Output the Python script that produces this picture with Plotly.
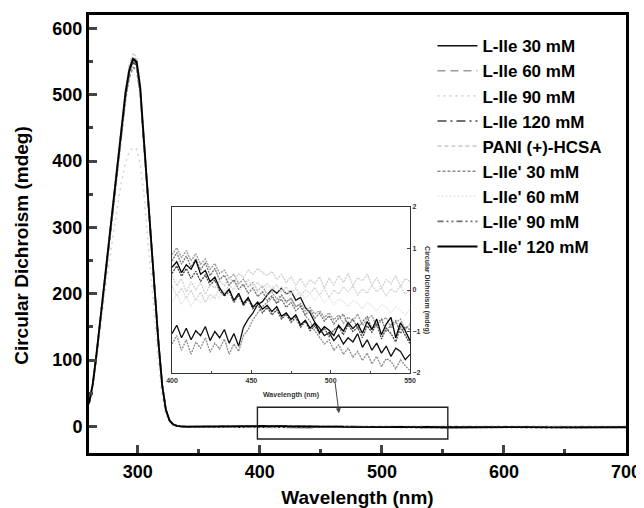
import plotly.graph_objects as go

# wavelength grids (nm)
peak_nm = [260, 263, 266, 269, 272, 275, 278, 281, 284, 287, 290, 293, 296,
           299, 302, 305, 308, 311, 314, 317, 320, 323, 326, 329, 332, 335]
pre_nm = [340, 350, 360, 370, 380, 390]
inset_nm = list(range(400, 551, 3))
post_nm = [560, 580, 600, 620, 640, 660, 680, 700]

labels = ["L-Ile 30 mM", "L-Ile 60 mM", "L-Ile 90 mM", "L-Ile 120 mM", "PANI (+)-HCSA",
          "L-Ile' 30 mM", "L-Ile' 60 mM", "L-Ile' 90 mM", "L-Ile' 120 mM"]

# CD peak region (mdeg)
peak_l30 = [35, 62, 106, 155, 200, 253, 300, 352, 403, 452, 502, 535, 552, 548, 508, 430, 350, 275, 200, 125, 62, 25, 9, 3, 1, 0]
peak_l60 = [36, 64, 108, 158, 204, 257, 305, 357, 408, 457, 507, 540, 557, 553, 512, 433, 352, 277, 201, 126, 63, 25, 9, 3, 1, 0]
peak_l90 = [34, 60, 102, 148, 188, 228, 268, 305, 340, 372, 398, 414, 420, 418, 395, 350, 290, 225, 160, 95, 45, 18, 7, 2, 1, 0]
peak_l120 = [34, 61, 104, 153, 197, 250, 296, 348, 399, 448, 498, 531, 548, 545, 505, 427, 348, 273, 198, 124, 61, 24, 9, 3, 1, 0]
peak_pani = [37, 65, 110, 160, 206, 260, 308, 360, 412, 461, 511, 545, 561, 558, 516, 436, 354, 278, 202, 126, 63, 25, 9, 3, 1, 0]
peak_p30 = [33, 60, 103, 151, 195, 247, 293, 344, 395, 443, 492, 525, 541, 538, 499, 423, 345, 271, 197, 123, 61, 24, 9, 3, 1, 0]
peak_p60 = [36, 63, 108, 157, 203, 256, 304, 356, 407, 456, 506, 540, 556, 553, 512, 433, 352, 277, 201, 126, 63, 25, 9, 3, 1, 0]
peak_p90 = [35, 62, 105, 154, 199, 252, 299, 351, 402, 451, 501, 534, 551, 547, 507, 429, 349, 274, 199, 124, 62, 25, 9, 3, 1, 0]
peak_p120 = [35, 63, 107, 156, 201, 254, 302, 354, 405, 454, 504, 537, 554, 550, 510, 431, 351, 276, 200, 125, 62, 25, 9, 3, 1, 0]

# flat region before the zoomed window
pre_l30 = [-0.6, -0.9, -1.1, -0.8, -1.2, -1.0]
pre_l60 = [-0.3, -0.5, -0.2, 0.1, 0.4, 0.7]
pre_l90 = [-0.2, 0.1, -0.3, 0.0, -0.1, 0.1]
pre_l120 = [-0.4, -0.2, 0.0, 0.2, 0.1, 0.4]
pre_pani = [0.2, 0.0, 0.3, 0.1, 0.4, 0.2]
pre_p30 = [-0.8, -1.2, -1.0, -1.4, -1.1, -1.3]
pre_p60 = [-0.1, -0.3, -0.2, -0.4, -0.2, -0.3]
pre_p90 = [-0.3, 0.0, 0.2, 0.1, 0.5, 0.6]
pre_p120 = [-0.2, 0.1, 0.0, 0.3, 0.2, 0.5]

# zoomed window 400-550 nm (mdeg)
inset_l30 = [-1.05, -0.85, -1.15, -0.92, -1.20, -0.98, -1.10, -0.88, -1.22, -1.00, -1.15,
             -0.95, -1.28, -1.05, -1.35, -0.90, -0.70, -0.55, -0.35, -0.28, -0.12,
             0.02, -0.08, 0.05, -0.10, -0.02, -0.25, -0.18, -0.42, -0.55, -0.78,
             -0.92, -1.10, -1.02, -1.22, -1.08, -1.30, -1.15, -1.25, -1.05, -1.38,
             -1.20, -1.45, -1.28, -1.52, -1.35, -1.60, -1.40, -1.48, -1.68, -1.55]
inset_l60 = [0.85, 1.02, 0.78, 0.95, 0.70, 0.88, 0.62, 0.75, 0.50, 0.64, 0.40,
             0.48, 0.28, 0.38, 0.15, 0.26, 0.08, 0.18, -0.02, 0.10, -0.12,
             -0.05, -0.22, -0.12, -0.30, -0.20, -0.40, -0.32, -0.50, -0.42, -0.58,
             -0.50, -0.66, -0.55, -0.72, -0.60, -0.80, -0.65, -0.76, -0.58, -0.85,
             -0.70, -0.62, -0.88, -0.74, -0.66, -0.92, -0.78, -0.70, -0.95, -0.82]
inset_l90 = [0.10, -0.15, 0.05, -0.20, 0.00, -0.25, -0.05, -0.30, -0.10, -0.20, 0.05,
             -0.08, 0.12, 0.00, 0.20, 0.08, 0.25, 0.10, 0.18, 0.05, 0.15,
             0.02, 0.12, -0.05, 0.08, -0.10, 0.05, -0.15, 0.00, -0.08, 0.06,
             -0.12, 0.04, -0.18, 0.00, -0.10, 0.08, -0.05, 0.10, -0.12, 0.02,
             -0.08, 0.12, -0.04, 0.06, -0.14, 0.03, -0.06, 0.10, -0.10, 0.00]
inset_l120 = [0.40, 0.58, 0.33, 0.52, 0.28, 0.45, 0.21, 0.36, 0.12, 0.24, -0.02,
              -0.15, -0.04, -0.30, -0.12, -0.38, -0.22, -0.45, -0.35, -0.55, -0.42,
              -0.60, -0.48, -0.70, -0.58, -0.78, -0.66, -0.90, -0.75, -0.98, -0.86,
              -1.05, -0.92, -1.12, -0.96, -0.88, -1.08, -0.84, -1.00, -0.90, -1.15,
              -0.86, -1.02, -0.80, -1.18, -0.92, -1.05, -1.25, -0.88, -1.10, -1.30]
inset_pani = [0.35, 0.10, 0.28, -0.05, 0.20, 0.00, 0.18, -0.10, 0.12, 0.05, 0.22,
              0.10, 0.30, 0.18, 0.40, 0.30, 0.48, 0.38, 0.52, 0.42, 0.35,
              0.45, 0.25, 0.38, 0.18, 0.32, 0.12, 0.28, 0.08, 0.25, 0.15,
              0.32, 0.05, 0.28, 0.12, 0.35, 0.18, 0.40, 0.10, 0.30, 0.22,
              0.38, 0.12, 0.30, 0.05, 0.25, 0.15, 0.35, 0.08, 0.28, 0.20]
inset_p30 = [-1.30, -1.10, -1.45, -1.20, -1.55, -1.25, -1.40, -1.15, -1.50, -1.28, -1.42,
             -1.18, -1.55, -1.30, -1.48, -1.10, -0.95, -0.72, -0.55, -0.40, -0.30,
             -0.18, -0.32, -0.12, -0.28, -0.20, -0.40, -0.35, -0.62, -0.75, -0.98,
             -1.15, -1.30, -1.20, -1.45, -1.32, -1.55, -1.40, -1.62, -1.48, -1.70,
             -1.52, -1.78, -1.60, -1.85, -1.65, -1.72, -1.90, -1.68, -1.82, -1.95]
inset_p60 = [-0.30, -0.10, -0.35, -0.15, -0.40, -0.20, -0.30, -0.05, -0.25, -0.10, -0.20,
             0.00, -0.15, 0.05, -0.10, 0.10, -0.05, 0.15, 0.00, 0.12, 0.05,
             0.10, -0.02, 0.08, -0.10, 0.02, -0.15, -0.05, -0.20, -0.10, -0.25,
             -0.12, -0.30, -0.18, -0.35, -0.22, -0.28, -0.40, -0.25, -0.32, -0.45,
             -0.30, -0.38, -0.50, -0.35, -0.42, -0.55, -0.40, -0.48, -0.60, -0.45]
inset_p90 = [0.70, 0.90, 0.62, 0.82, 0.55, 0.76, 0.48, 0.66, 0.35, 0.52, 0.25,
             0.36, 0.12, 0.25, 0.02, 0.14, -0.08, 0.05, -0.16, -0.04, -0.25,
             -0.14, -0.32, -0.22, -0.42, -0.30, -0.50, -0.40, -0.60, -0.48, -0.68,
             -0.56, -0.75, -0.62, -0.82, -0.68, -0.58, -0.86, -0.70, -0.92, -0.76,
             -0.64, -0.94, -0.80, -0.70, -1.00, -0.84, -0.74, -1.05, -0.88, -0.96]
inset_p120 = [0.55, 0.68, 0.42, 0.61, 0.50, 0.72, 0.38, 0.47, 0.20, 0.31, 0.05,
              -0.12, 0.02, -0.25, -0.08, -0.33, -0.18, -0.41, -0.29, -0.46, -0.37,
              -0.52, -0.40, -0.63, -0.55, -0.71, -0.60, -0.84, -0.73, -0.92, -0.80,
              -1.02, -0.88, -0.97, -1.10, -0.85, -0.99, -0.78, -0.93, -0.81, -1.04,
              -0.76, -0.95, -0.70, -1.08, -0.82, -0.66, -1.15, -0.79, -0.98, -1.22]

# flat region after the zoomed window
post_l30 = [-1.5, -1.2, -1.6, -1.3, -1.1, -1.4, -1.2, -1.5]
post_l60 = [-0.9, -1.1, -0.8, -1.2, -1.0, -0.9, -1.1, -1.0]
post_l90 = [0.0, -0.2, 0.1, -0.1, 0.0, -0.2, 0.1, 0.0]
post_l120 = [-1.2, -1.0, -1.3, -1.1, -0.9, -1.2, -1.0, -1.1]
post_pani = [0.2, 0.3, 0.1, 0.2, 0.4, 0.2, 0.3, 0.1]
post_p30 = [-1.8, -1.6, -1.9, -1.7, -1.5, -1.8, -1.6, -1.7]
post_p60 = [-0.5, -0.6, -0.4, -0.5, -0.7, -0.5, -0.6, -0.4]
post_p90 = [-0.9, -1.1, -0.8, -1.0, -1.2, -0.9, -1.0, -0.8]
post_p120 = [-1.1, -0.9, -1.2, -1.0, -1.3, -1.0, -1.1, -0.9]

peaks = [peak_l30, peak_l60, peak_l90, peak_l120, peak_pani, peak_p30, peak_p60, peak_p90, peak_p120]
pres = [pre_l30, pre_l60, pre_l90, pre_l120, pre_pani, pre_p30, pre_p60, pre_p90, pre_p120]
insets = [inset_l30, inset_l60, inset_l90, inset_l120, inset_pani, inset_p30, inset_p60, inset_p90, inset_p120]
posts = [post_l30, post_l60, post_l90, post_l120, post_pani, post_p30, post_p60, post_p90, post_p120]

styles = [
    dict(color="#111111", dash="solid", width=1.6),
    dict(color="#9a9a9a", dash="8px,5px", width=1.6),
    dict(color="#d4d4d4", dash="2px,4px", width=1.6),
    dict(color="#444444", dash="9px,4px,2px,4px", width=1.6),
    dict(color="#cfcfcf", dash="4px,3px", width=1.6),
    dict(color="#8c8c8c", dash="3px,2px", width=1.6),
    dict(color="#e8e8e8", dash="2px,2px", width=1.6),
    dict(color="#707070", dash="6px,3px,2px,3px,2px,3px", width=1.6),
    dict(color="#000000", dash="solid", width=1.8),
]

FONT = "Liberation Sans, Arial"
bold = dict(family=FONT, size=18, color="black", weight="bold")
small = dict(family=FONT, size=7, color="#333333")

fig = go.Figure()

for i, name in enumerate(labels):
    x_all = peak_nm + pre_nm + inset_nm + post_nm
    y_all = peaks[i] + pres[i] + insets[i] + posts[i]
    fig.add_trace(go.Scatter(x=x_all, y=y_all, mode="lines", name=name,
                             line=styles[i], xaxis="x", yaxis="y"))

# same spectra, zoomed into 400-550 nm
for i, name in enumerate(labels):
    dash = "solid" if styles[i]["dash"] == "solid" else "2px,1px"
    fig.add_trace(go.Scatter(x=inset_nm, y=insets[i], mode="lines", name=name,
                             line=dict(color=styles[i]["color"], dash=dash, width=1.3),
                             showlegend=False, xaxis="x2", yaxis="y2"))

# page body has an 8px margin, so the figure is 8px smaller and shifted
fig.update_layout(
    width=636, height=500,
    margin=dict(l=81, r=18, t=7, b=55, autoexpand=False),
    paper_bgcolor="white", plot_bgcolor="white",
    font=bold,
    showlegend=True,
    legend=dict(x=0.6396, y=0.970, xanchor="left", yanchor="top", bgcolor="rgba(0,0,0,0)",
                font=dict(family=FONT, size=17, color="black", weight="bold"),
                itemwidth=40, tracegroupgap=0),
    xaxis=dict(range=[260, 700], tick0=300, dtick=100, ticks="inside", ticklen=8, tickwidth=2.5,
               linewidth=3, linecolor="black", mirror=True, showgrid=False, zeroline=False,
               automargin=False, tickfont=bold,
               minor=dict(ticks="inside", ticklen=4, tickwidth=2.5, dtick=50, tick0=300),
               title=dict(text="Wavelength (nm)", font=dict(family=FONT, size=19, weight="bold"))),
    yaxis=dict(range=[-40, 620], tick0=0, dtick=100, ticks="inside", ticklen=8, tickwidth=2.5,
               linewidth=3, linecolor="black", mirror=True, showgrid=False, zeroline=False,
               automargin=False, tickfont=bold,
               minor=dict(ticks="inside", ticklen=4, tickwidth=2.5, dtick=50, tick0=0)),
    xaxis2=dict(domain=[0.1546, 0.5978], anchor="y2", range=[400, 550], tick0=400, dtick=50,
                ticks="inside", ticklen=3, tickwidth=1, linewidth=1.2, linecolor="#333333", mirror=True,
                showgrid=False, zeroline=False, automargin=False, tickfont=small,
                minor=dict(ticks="inside", ticklen=2, tickwidth=1, dtick=25, tick0=400)),
    yaxis2=dict(domain=[0.1826, 0.5616], anchor="x2", side="right", range=[-2, 2], dtick=1,
                ticks="inside", ticklen=3, tickwidth=1, linewidth=1.2, linecolor="#333333", mirror=True,
                showgrid=False, zeroline=False, automargin=False, tickfont=small),
)

# y-axis title of main plot
fig.add_annotation(text="Circular Dichroism (mdeg)", xref="paper", yref="paper",
                   x=-0.125, y=0.475, xanchor="center", yanchor="middle", textangle=-90,
                   showarrow=False, font=dict(family=FONT, size=19, color="black", weight="bold"))

# inset axis titles
fig.add_annotation(text="Wavelength (nm)", xref="paper", yref="paper", x=0.376, y=0.1324,
                   xanchor="center", yanchor="middle", showarrow=False, font=small)
fig.add_annotation(text="Circular Dichroism (mdeg)", xref="paper", yref="paper", x=0.6294, y=0.372,
                   xanchor="center", yanchor="middle", textangle=90, showarrow=False, font=small)

# box marking the zoomed window
fig.add_shape(type="rect", xref="x", yref="y", x0=398, x1=554, y0=-19, y1=29,
              line=dict(color="#222222", width=1.4))

# arrow from inset to box
fig.add_annotation(x=464.8, y=20, xref="x", yref="y", ax=-4, ay=-32, showarrow=True,
                   arrowhead=2, arrowsize=1, arrowwidth=1, arrowcolor="#444444", text="")

fig.write_html("out.html")
